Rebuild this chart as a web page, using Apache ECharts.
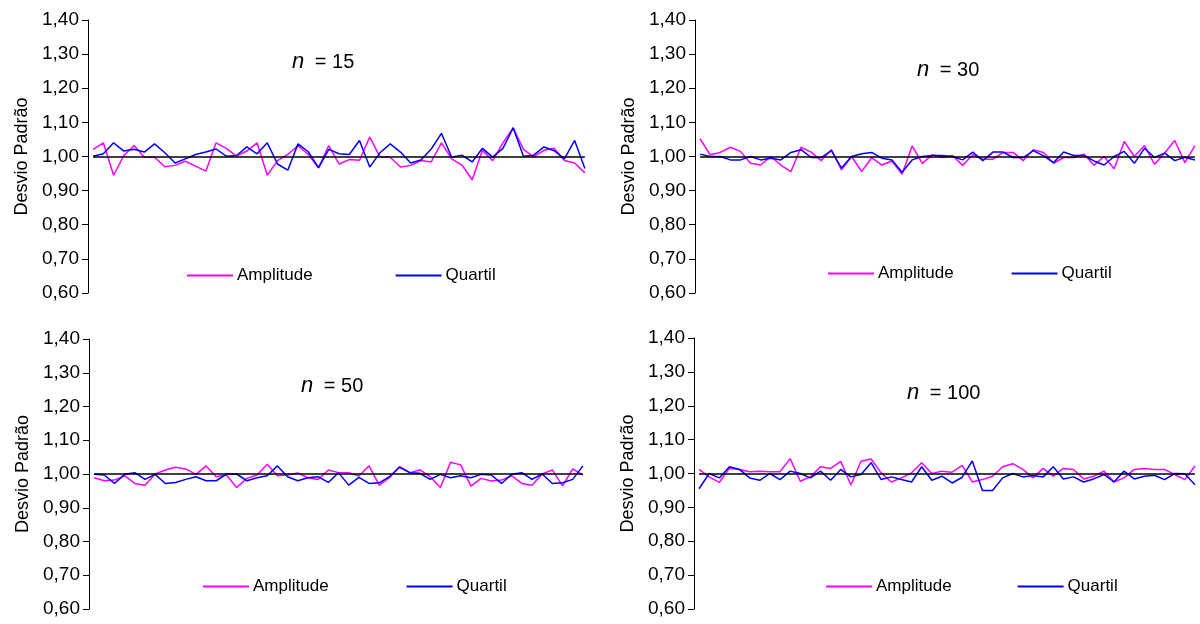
<!DOCTYPE html>
<html>
  <head>
    <meta charset="UTF-8">
    <title>Desvio Padrão</title>
    <script src="https://cdn.jsdelivr.net/npm/echarts@6/dist/echarts.min.js"></script>
  </head>
  <body style="margin:0;">
    <div id="myChart" style="width:1200px;height:624px;"></div>
    <script type="text/javascript">
      // valores (Amplitude = rosa, Quartil = azul)
      var amp15 = [1.021, 1.040, 0.945, 1.003, 1.032, 0.998, 0.998, 0.970, 0.974, 0.986, 0.972, 0.957, 1.040, 1.024, 1.001, 1.016, 1.040, 0.945, 0.988, 1.006, 1.032, 1.006, 0.967, 1.032, 0.978, 0.991, 0.989, 1.057, 0.999, 0.998, 0.969, 0.974, 0.988, 0.984, 1.040, 0.993, 0.975, 0.932, 1.018, 0.988, 1.040, 1.084, 1.021, 0.999, 1.018, 1.024, 0.988, 0.981, 0.952];
      var qua15 = [1.001, 1.008, 1.040, 1.016, 1.021, 1.013, 1.037, 1.011, 0.981, 0.993, 1.006, 1.013, 1.022, 1.001, 1.003, 1.028, 1.008, 1.040, 0.978, 0.960, 1.037, 1.014, 0.967, 1.021, 1.008, 1.006, 1.047, 0.969, 1.011, 1.037, 1.013, 0.981, 0.990, 1.022, 1.068, 0.998, 1.004, 0.984, 1.024, 0.998, 1.024, 1.084, 1.001, 1.004, 1.028, 1.017, 0.993, 1.047, 0.965];
      var amp30 = [1.052, 1.005, 1.012, 1.027, 1.015, 0.980, 0.975, 1.000, 0.975, 0.956, 1.027, 1.013, 0.988, 1.020, 0.961, 1.000, 0.956, 0.997, 0.975, 0.987, 0.948, 1.031, 0.980, 1.005, 0.997, 1.003, 0.974, 1.005, 0.992, 0.992, 1.012, 1.012, 0.988, 1.020, 1.012, 0.980, 0.997, 0.997, 1.007, 0.974, 1.000, 0.964, 1.044, 1.000, 1.032, 0.977, 1.010, 1.047, 0.982, 1.032];
      var qua30 = [1.007, 1.000, 1.000, 0.990, 0.990, 1.000, 0.990, 0.995, 0.990, 1.012, 1.020, 0.997, 0.997, 1.017, 0.966, 1.000, 1.008, 1.012, 0.995, 0.990, 0.954, 0.990, 1.000, 1.003, 1.003, 1.000, 0.990, 1.013, 0.988, 1.013, 1.013, 0.997, 0.997, 1.017, 1.002, 0.982, 1.013, 1.003, 1.003, 0.987, 0.975, 1.000, 1.015, 0.980, 1.024, 0.997, 1.010, 0.988, 0.998, 0.990];
      var amp50 = [0.989, 0.980, 0.982, 0.995, 0.972, 0.967, 1.000, 1.012, 1.020, 1.015, 0.999, 1.024, 0.992, 0.997, 0.960, 0.987, 0.997, 1.029, 0.995, 0.997, 1.003, 0.989, 0.984, 1.012, 1.004, 1.004, 0.994, 1.024, 0.967, 0.989, 1.022, 1.004, 1.012, 0.992, 0.960, 1.035, 1.027, 0.964, 0.987, 0.979, 0.982, 0.995, 0.972, 0.967, 1.000, 1.012, 0.965, 1.015, 0.997];
      var qua50 = [0.999, 0.997, 0.972, 0.999, 1.004, 0.984, 0.999, 0.972, 0.975, 0.984, 0.992, 0.980, 0.980, 1.000, 1.000, 0.980, 0.989, 0.995, 1.024, 0.992, 0.980, 0.989, 0.992, 0.975, 1.004, 0.967, 0.990, 0.972, 0.974, 0.992, 1.020, 1.004, 1.002, 0.984, 0.999, 0.989, 0.995, 0.989, 0.999, 0.997, 0.972, 0.999, 1.004, 0.984, 1.000, 0.972, 0.974, 0.984, 1.024];
      var amp100 = [1.012, 0.990, 0.974, 1.015, 1.012, 1.005, 1.007, 1.005, 1.005, 1.044, 0.977, 0.990, 1.020, 1.015, 1.036, 0.966, 1.036, 1.043, 1.002, 0.975, 0.987, 1.002, 1.032, 1.000, 1.007, 1.004, 1.024, 0.975, 0.982, 0.992, 1.020, 1.029, 1.012, 0.987, 1.015, 0.992, 1.015, 1.012, 0.984, 0.992, 1.007, 0.975, 0.987, 1.012, 1.015, 1.012, 1.012, 0.997, 0.982, 1.022];
      var qua100 = [0.955, 1.000, 0.987, 1.020, 1.012, 0.987, 0.980, 1.000, 0.982, 1.007, 1.000, 0.987, 1.007, 0.980, 1.012, 0.990, 0.997, 1.032, 0.982, 0.990, 0.982, 0.975, 1.020, 0.980, 0.992, 0.972, 0.989, 1.037, 0.950, 0.950, 0.987, 1.000, 0.990, 0.994, 0.990, 1.020, 0.984, 0.990, 0.975, 0.984, 0.997, 0.975, 1.007, 0.984, 0.992, 0.995, 0.982, 1.000, 0.999, 0.967];

      var sizes = ['15', '30', '50', '100'];
      var yTicks = [0.6, 0.7, 0.8, 0.9, 1.0, 1.1, 1.2, 1.3, 1.4];
      var refValue = 1.0;

      var ampList = [amp15, amp30, amp50, amp100];
      var quaList = [qua15, qua30, qua50, qua100];

      // posições dos quatro painéis
      var grids = [
        {left: 88, top: 20, width: 502, height: 273},
        {left: 695, top: 20, width: 510, height: 273},
        {left: 89, top: 339, width: 499, height: 270},
        {left: 694, top: 338, width: 511, height: 271}
      ];
      var titlePos = [[292, 51], [917, 59], [301, 375], [907, 382]];
      var legendPos = [[187, 267, 83], [828, 265, 58], [203, 578, 78], [826, 578, 66]];

      var font = 'Liberation Sans, Arial, sans-serif';
      var myChart = echarts.init(document.getElementById('myChart'));

      var xAxes = [], yAxes = [], series = [], titles = [], legends = [];
      for (var p = 0; p < 4; p++) {
        var cats = [];
        for (var k = 0; k < ampList[p].length; k++) cats.push(String(k + 1));
        xAxes.push({type: 'category', gridIndex: p, data: cats, boundaryGap: true, show: false});
        yAxes.push({
          type: 'value', gridIndex: p, min: yTicks[0], max: yTicks[yTicks.length - 1], interval: 0.1,
          name: 'Desvio Padrão', nameLocation: 'middle', nameGap: 57,
          nameTextStyle: {color: '#000', fontFamily: font, fontSize: 18},
          axisLine: {show: true, lineStyle: {color: '#000', width: 1}},
          axisTick: {show: true, inside: false, length: 6, lineStyle: {color: '#000'}},
          splitLine: {show: false},
          axisLabel: {
            color: '#000', fontFamily: font, fontSize: 19, margin: 9,
            formatter: function (v) { return v.toFixed(2).replace('.', ','); }
          }
        });
        series.push({
          name: 'Amplitude', type: 'line', xAxisIndex: p, yAxisIndex: p,
          data: ampList[p], symbol: 'none', color: '#FF00FF',
          lineStyle: {color: '#FF00FF', width: 1.5}
        });
        series.push({
          name: 'Quartil', type: 'line', xAxisIndex: p, yAxisIndex: p,
          data: quaList[p], symbol: 'none', color: '#0000FF',
          lineStyle: {color: '#0000FF', width: 1.5},
          markLine: {
            silent: true, symbol: 'none', label: {show: false},
            lineStyle: {color: '#000', width: 1.5, type: 'solid'},
            data: [[{coord: [0, refValue]}, {coord: [ampList[p].length - 1, refValue]}]]
          }
        });
        titles.push({
          text: '{i|n} = ' + sizes[p], left: titlePos[p][0], top: titlePos[p][1], padding: 0,
          textStyle: {
            color: '#000', fontFamily: font, fontSize: 20, fontWeight: 'normal',
            rich: {i: {fontStyle: 'italic', fontFamily: font, fontSize: 22, color: '#000', padding: [0, 5, 0, 0]}}
          }
        });
        legends.push({
          data: ['Amplitude', 'Quartil'], left: legendPos[p][0], top: legendPos[p][1],
          itemGap: legendPos[p][2], itemWidth: 46, itemHeight: 2, icon: 'rect', padding: 0,
          selectedMode: false,
          textStyle: {color: '#000', fontFamily: font, fontSize: 17, padding: [0, 0, 0, -1]}
        });
      }

      myChart.setOption({
        animation: false,
        backgroundColor: '#fff',
        title: titles,
        legend: legends,
        grid: grids,
        xAxis: xAxes,
        yAxis: yAxes,
        series: series
      });
    </script>
  </body>
</html>
